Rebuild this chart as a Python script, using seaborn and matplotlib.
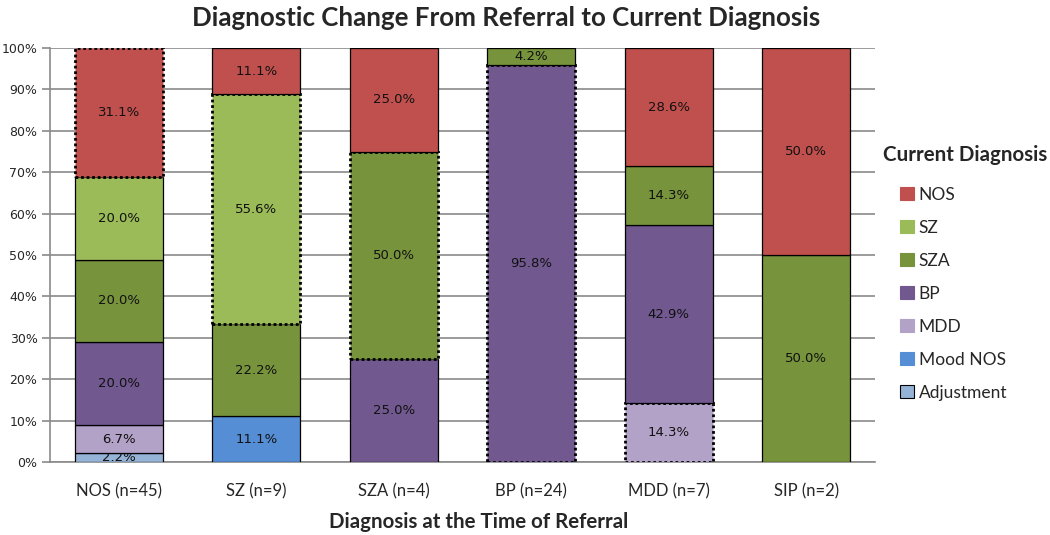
import numpy as np
import pandas as pd
import seaborn as sns
import matplotlib.pyplot as plt
from matplotlib.patches import Patch
from matplotlib.ticker import PercentFormatter

# referral diagnoses (x axis) and current diagnoses (stacked series, bottom to top)
referral = ['NOS (n=45)', 'SZ (n=9)', 'SZA (n=4)', 'BP (n=24)', 'MDD (n=7)', 'SIP (n=2)']
series = ['Adjustment', 'Mood NOS', 'MDD', 'BP', 'SZA', 'SZ', 'NOS']

adjustment = [2.2, 0, 0, 0, 0, 0]
mood_nos = [0, 11.1, 0, 0, 0, 0]
mdd = [6.7, 0, 0, 0, 14.3, 0]
bp = [20.0, 0, 25.0, 95.8, 42.9, 0]
sza = [20.0, 22.2, 50.0, 4.2, 14.3, 50.0]
sz = [20.0, 55.6, 0, 0, 0, 0]
nos = [31.1, 11.1, 25.0, 0, 28.6, 50.0]

# segment that matches the referral diagnosis gets a dotted outline
same_as_referral = {'NOS': 0, 'SZ': 1, 'SZA': 2, 'BP': 3, 'MDD': 4}

colors = {
    'Adjustment': '#95B3D7',
    'Mood NOS': '#558ED5',
    'MDD': '#B3A2C7',
    'BP': '#71588F',
    'SZA': '#77933C',
    'SZ': '#9BBB59',
    'NOS': '#C0504D',
}

values = dict(zip(series, [adjustment, mood_nos, mdd, bp, sza, sz, nos]))

sns.set_style('white')
plt.rcParams['font.family'] = ['Lato', 'DejaVu Sans']

fig = plt.figure(figsize=(10.5, 5.35), dpi=100)
ax = fig.add_axes([0.0476, 0.1364, 0.7857, 0.7738])

bottom = np.zeros(len(referral))
for name in series:
    vals = np.array(values[name], dtype=float)
    df = pd.DataFrame({'referral': referral, 'pct': vals})
    sns.barplot(data=df, x='referral', y='pct', order=referral, color=colors[name],
                saturation=1, width=0.64, bottom=bottom, edgecolor='black',
                linewidth=0.9, ax=ax, zorder=3)
    cont = ax.containers[-1]
    for j, bar in enumerate(cont.patches):
        if vals[j] == 0:
            bar.set_visible(False)
        elif same_as_referral.get(name) == j:
            bar.set_linestyle((0, (1, 1)))
            bar.set_linewidth(2.0)
    labels = [f'{v:.1f}%' if v > 0 else '' for v in vals]
    ax.bar_label(cont, labels=labels, label_type='center', fontsize=9.5,
                 family='DejaVu Sans', color='#111111')
    bottom = bottom + vals

ax.set_xlim(-0.5, 5.5)
ax.set_ylim(0, 100)
ax.set_yticks(range(0, 101, 10))
ax.yaxis.set_major_formatter(PercentFormatter(decimals=0))
ax.grid(axis='y', color='#8a8a8a', linewidth=1.2, zorder=0)
ax.set_axisbelow(True)
for side in ['top', 'right']:
    ax.spines[side].set_visible(False)
for side in ['left', 'bottom']:
    ax.spines[side].set_color('#8a8a8a')
    ax.spines[side].set_linewidth(1.2)
ax.tick_params(axis='y', left=True, length=6, width=1.2, color='#8a8a8a',
               labelsize=9, pad=3)
ax.tick_params(axis='x', bottom=False, pad=12)
for lab in ax.get_yticklabels():
    lab.set_family('DejaVu Sans')
for lab in ax.get_xticklabels():
    lab.set_family(['Liberation Sans Narrow', 'Lato'])
    lab.set_fontsize(12)

ax.set_xlabel('Diagnosis at the Time of Referral', fontsize=14.8, fontweight='bold')
ax.xaxis.set_label_coords(0.519, -0.145)
ax.xaxis.label.set_va('center')
ax.set_ylabel('')
fig.text(506 / 1050, 1 - 18 / 535, 'Diagnostic Change From Referral to Current Diagnosis',
         fontsize=18.6, fontweight='bold', ha='center', va='center')

handles = [Patch(facecolor=colors[s], edgecolor='black' if s == 'Adjustment' else colors[s],
                 linewidth=0.8, label=s) for s in reversed(series)]
fig.text(883 / 1050, 1 - 155 / 535, 'Current Diagnosis', fontsize=14.8,
         fontweight='bold', va='center', ha='left')
fig.legend(handles=handles, loc='upper left', bbox_to_anchor=(891 / 1050, 1 - 178 / 535),
           frameon=False, fontsize=12.5, handlelength=0.8, handleheight=0.8,
           handletextpad=0.3, labelspacing=0.98, borderpad=0)

fig.savefig('out.png', dpi=100)
